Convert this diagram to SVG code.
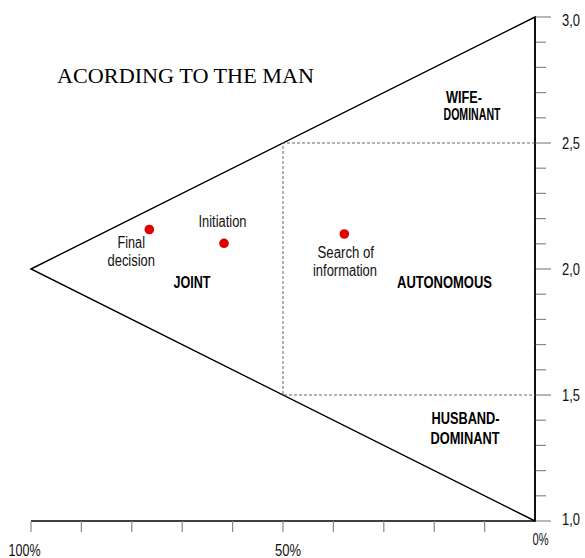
<svg xmlns="http://www.w3.org/2000/svg" width="585" height="558" viewBox="0 0 585 558">
<style>
.ax{stroke:#000;stroke-width:1.6;fill:none}
.tk{stroke:#888;stroke-width:1.2}
.dash{stroke:#555;stroke-width:0.9;stroke-dasharray:3,2;fill:none}
.lbl{font-family:"Liberation Sans",Arial,sans-serif;font-size:16px;fill:#111}
.bold{font-family:"Liberation Sans",Arial,sans-serif;font-size:16px;font-weight:bold;fill:#000}
.dot{fill:#e00000}
</style>
<rect width="585" height="558" fill="#fff"/>
<text x="57" y="83" font-family="'Liberation Serif','Times New Roman',serif" font-size="21" fill="#000" textLength="257" lengthAdjust="spacingAndGlyphs">ACORDING TO THE MAN</text>
<g id="axes">
<line class="ax" x1="535" y1="17" x2="535" y2="521"/>
<line class="ax" x1="31" y1="521" x2="535" y2="521"/>
<g class="tk">
<line x1="535" y1="17" x2="551" y2="17"/>
<line x1="535" y1="42.2" x2="546" y2="42.2"/>
<line x1="535" y1="67.4" x2="546" y2="67.4"/>
<line x1="535" y1="92.6" x2="546" y2="92.6"/>
<line x1="535" y1="117.8" x2="546" y2="117.8"/>
<line x1="535" y1="143" x2="551" y2="143"/>
<line x1="535" y1="168.2" x2="546" y2="168.2"/>
<line x1="535" y1="193.4" x2="546" y2="193.4"/>
<line x1="535" y1="218.6" x2="546" y2="218.6"/>
<line x1="535" y1="243.8" x2="546" y2="243.8"/>
<line x1="535" y1="269" x2="551" y2="269"/>
<line x1="535" y1="294.2" x2="546" y2="294.2"/>
<line x1="535" y1="319.4" x2="546" y2="319.4"/>
<line x1="535" y1="344.6" x2="546" y2="344.6"/>
<line x1="535" y1="369.8" x2="546" y2="369.8"/>
<line x1="535" y1="395" x2="551" y2="395"/>
<line x1="535" y1="420.2" x2="546" y2="420.2"/>
<line x1="535" y1="445.4" x2="546" y2="445.4"/>
<line x1="535" y1="470.6" x2="546" y2="470.6"/>
<line x1="535" y1="495.8" x2="546" y2="495.8"/>
<line x1="535" y1="521" x2="551" y2="521"/>
<line x1="31" y1="521" x2="31" y2="532"/>
<line x1="81.4" y1="521" x2="81.4" y2="532"/>
<line x1="131.8" y1="521" x2="131.8" y2="532"/>
<line x1="182.2" y1="521" x2="182.2" y2="532"/>
<line x1="232.6" y1="521" x2="232.6" y2="532"/>
<line x1="283" y1="521" x2="283" y2="532"/>
<line x1="333.4" y1="521" x2="333.4" y2="532"/>
<line x1="383.8" y1="521" x2="383.8" y2="532"/>
<line x1="434.2" y1="521" x2="434.2" y2="532"/>
<line x1="484.6" y1="521" x2="484.6" y2="532"/>
</g>
<g class="lbl">
<text x="562" y="26" textLength="18" lengthAdjust="spacingAndGlyphs">3,0</text>
<text x="562" y="149" textLength="18" lengthAdjust="spacingAndGlyphs">2,5</text>
<text x="562" y="275" textLength="18" lengthAdjust="spacingAndGlyphs">2,0</text>
<text x="562" y="401" textLength="18" lengthAdjust="spacingAndGlyphs">1,5</text>
<text x="562" y="525" textLength="18" lengthAdjust="spacingAndGlyphs">1,0</text>
<text x="8.5" y="556" textLength="32" lengthAdjust="spacingAndGlyphs">100%</text>
<text x="275" y="556" textLength="26" lengthAdjust="spacingAndGlyphs">50%</text>
<text x="532.5" y="545" textLength="16" lengthAdjust="spacingAndGlyphs">0%</text>
</g>
</g>
<g id="triangle">
<polygon points="31,269 535,17 535,521" fill="none" stroke="#000" stroke-width="1.4"/>
</g>
<g id="regions">
<polyline class="dash" points="535,143 283,143 283,395 535,395"/>
</g>
<g id="wife-dominant"><text class="bold" x="446" y="102.5" font-size="15" textLength="36" lengthAdjust="spacingAndGlyphs">WIFE-</text><text class="bold" x="443.5" y="119.5" font-size="15" textLength="57" lengthAdjust="spacingAndGlyphs">DOMINANT</text></g>
<g id="husband-dominant"><text class="bold" x="431.5" y="424" font-size="16" textLength="68" lengthAdjust="spacingAndGlyphs">HUSBAND-</text><text class="bold" x="430.5" y="443.5" font-size="16" textLength="69" lengthAdjust="spacingAndGlyphs">DOMINANT</text></g>
<g id="joint"><text class="bold" x="173.5" y="288.3" textLength="37" lengthAdjust="spacingAndGlyphs">JOINT</text></g>
<g id="autonomous"><text class="bold" x="397" y="288" textLength="95" lengthAdjust="spacingAndGlyphs">AUTONOMOUS</text></g>
<g id="final-decision"><circle class="dot" cx="149.3" cy="229.5" r="4.8"/><text class="lbl" x="117.5" y="247.7" textLength="27.5" lengthAdjust="spacingAndGlyphs">Final</text><text class="lbl" x="107.5" y="266" textLength="47.5" lengthAdjust="spacingAndGlyphs">decision</text></g>
<g id="initiation"><circle class="dot" cx="224" cy="243.3" r="4.8"/><text class="lbl" x="198.5" y="226.7" textLength="48" lengthAdjust="spacingAndGlyphs">Initiation</text></g>
<g id="search"><circle class="dot" cx="344.3" cy="234" r="4.8"/><text class="lbl" x="317.5" y="258" textLength="56.5" lengthAdjust="spacingAndGlyphs">Search of</text><text class="lbl" x="313" y="276" textLength="64" lengthAdjust="spacingAndGlyphs">information</text></g>
</svg>
